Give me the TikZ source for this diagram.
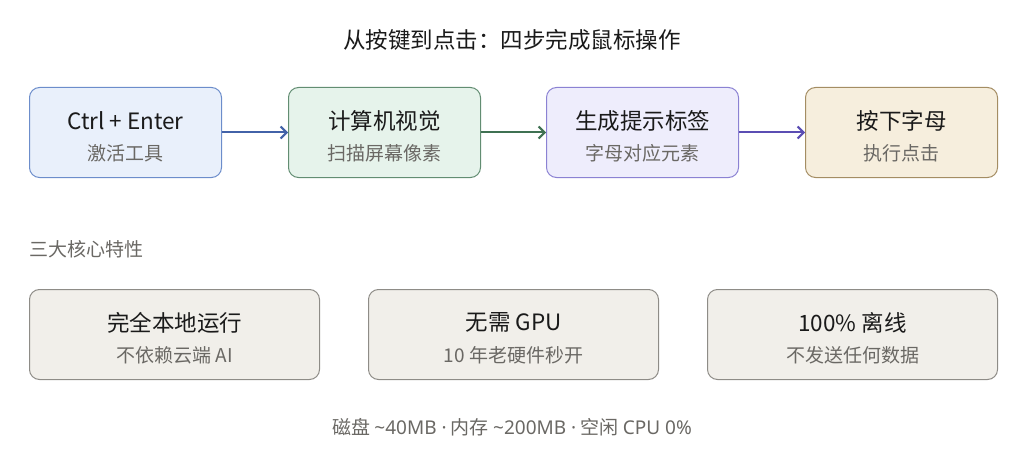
\documentclass[tikz,border=0pt]{standalone}
\usepackage{fontspec}
\setmainfont{Noto Sans CJK SC}
\newfontfamily\latinfont{Noto Sans}
\usetikzlibrary{arrows.meta}
\definecolor{bAfill}{HTML}{E9F0FB}\definecolor{bAdraw}{HTML}{6C8DCB}
\definecolor{bBfill}{HTML}{E6F3EB}\definecolor{bBdraw}{HTML}{628D72}
\definecolor{bCfill}{HTML}{EEEDFC}\definecolor{bCdraw}{HTML}{8B82D3}
\definecolor{bDfill}{HTML}{F6EEDD}\definecolor{bDdraw}{HTML}{A48D63}
\definecolor{aA}{HTML}{4262A8}\definecolor{aB}{HTML}{3F7152}\definecolor{aC}{HTML}{5B4DB3}
\definecolor{featfill}{HTML}{F1EFEA}\definecolor{featdraw}{HTML}{8E8C87}
\definecolor{titletxt}{HTML}{1A1A1A}\definecolor{subtxt}{HTML}{6A6864}
\tikzset{
  stepbox/.style={draw, line width=1pt, rounded corners=10pt, minimum width=192pt, minimum height=90pt, anchor=north west},
  featbox/.style={draw=featdraw, fill=featfill, line width=1pt, rounded corners=10pt, minimum width=290pt, minimum height=90pt, anchor=north west},
  headtxt/.style={font=\fontsize{22.5pt}{26pt}\selectfont, text=titletxt},
  subtext/.style={font=\fontsize{19pt}{22pt}\selectfont, text=subtxt},
  flow/.style={line width=2pt, -{Straight Barb[length=6pt,width=12pt,line width=2pt]}}
}
\begin{document}
\begin{tikzpicture}[x=1pt,y=-1pt]
\useasboundingbox (0,0) rectangle (1024,457);
\node[headtxt] (title) at (512,40) {从按键到点击：四步完成鼠标操作};
% step boxes
\node[stepbox, draw=bAdraw, fill=bAfill] (s1) at (29,87) {};
\node[stepbox, draw=bBdraw, fill=bBfill] (s2) at (288,87) {};
\node[stepbox, draw=bCdraw, fill=bCfill] (s3) at (546,87) {};
\node[stepbox, draw=bDdraw, fill=bDfill] (s4) at (805,87) {};
\node[headtxt] (s1t) at ([yshift=12pt]s1.center) {Ctrl + Enter};
\node[subtext] (s1s) at ([yshift=-21pt]s1.center) {激活工具};
\node[headtxt] (s2t) at ([yshift=12pt]s2.center) {计算机视觉};
\node[subtext] (s2s) at ([yshift=-21pt]s2.center) {扫描屏幕像素};
\node[headtxt] (s3t) at ([yshift=12pt]s3.center) {生成提示标签};
\node[subtext] (s3s) at ([yshift=-21pt]s3.center) {字母对应元素};
\node[headtxt] (s4t) at ([yshift=12pt]s4.center) {按下字母};
\node[subtext] (s4s) at ([yshift=-21pt]s4.center) {执行点击};
\draw[flow, aA] (s1.east) -- (s2.west);
\draw[flow, aB] (s2.east) -- (s3.west);
\draw[flow, aC] (s3.east) -- (s4.west);
% features
\node[subtext, anchor=west, inner sep=0pt] (feat) at (29,249) {三大核心特性};
\node[featbox] (f1) at (29,289) {};
\node[featbox] (f2) at (368,289) {};
\node[featbox] (f3) at (707,289) {};
\node[headtxt] (f1t) at ([yshift=12pt]f1.center) {完全本地运行};
\node[subtext] (f1s) at ([yshift=-21pt]f1.center) {不依赖云端 AI};
\node[headtxt] (f2t) at ([yshift=12pt]f2.center) {无需 GPU};
\node[subtext] (f2s) at ([yshift=-21pt]f2.center) {10 年老硬件秒开};
\node[headtxt] (f3t) at ([yshift=12pt]f3.center) {100\% 离线};
\node[subtext] (f3s) at ([yshift=-21pt]f3.center) {不发送任何数据};
\node[subtext] (foot) at (512,427) {磁盘 {\latinfont \textasciitilde 40MB ·} 内存 {\latinfont \textasciitilde 200MB ·} 空闲 {\latinfont CPU 0\%}};
\end{tikzpicture}
\end{document}
